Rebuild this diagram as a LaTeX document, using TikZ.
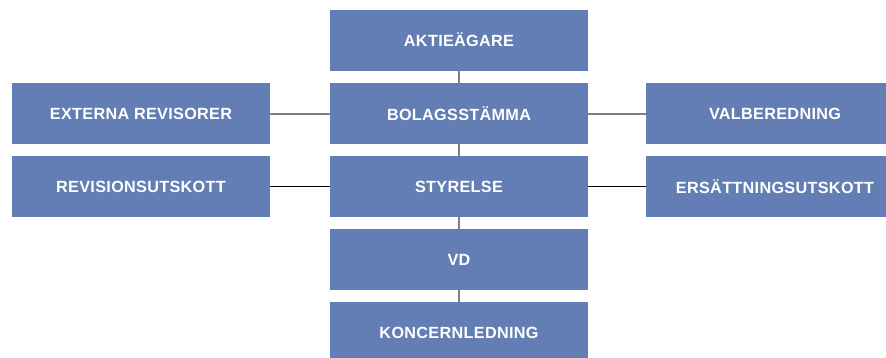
\documentclass[tikz,border=0pt]{standalone}
\usepackage{fontspec}
\setmainfont{Liberation Sans}[LetterSpace=2]
\definecolor{boxblue}{HTML}{637EB4}
\definecolor{linegray}{HTML}{7F7F7F}
\begin{document}
\begin{tikzpicture}[x=1pt,y=-1pt,
  orgbox/.style={fill=boxblue, draw=none, inner sep=0pt, text=white,
    font=\fontsize{16.2}{18}\selectfont\bfseries, anchor=center,
    minimum width=258pt, minimum height=61pt},
  graylink/.style={draw=linegray, line width=2pt},
  blacklink/.style={draw=black, line width=1.2pt}]
\useasboundingbox (0,0) rectangle (886,357);
\begin{scope}
\clip (0,0) rectangle (886,357);
\node[orgbox] (akt) at (459,40) {AKTIEÄGARE};
\node[orgbox] (bol) at (459,113.5) {BOLAGSSTÄMMA};
\node[orgbox] (sty) at (459,186.5) {STYRELSE};
\node[orgbox] (vd) at (459,259.5) {VD};
\node[orgbox] (kon) at (459,332.5) {KONCERNLEDNING};
\node[orgbox] (ext) at (141,113.5) {EXTERNA REVISORER};
\node[orgbox] (rev) at (141,186.5) {REVISIONSUTSKOTT};
\node[orgbox] (val) at (775,113.5) {VALBEREDNING};
\node[orgbox] (ers) at (775,186.5) {ERSÄTTNINGSUTSKOTT};
\end{scope}
\draw[graylink] (akt.south) -- (bol.north);
\draw[graylink] (bol.south) -- (sty.north);
\draw[graylink] (sty.south) -- (vd.north);
\draw[graylink] (vd.south) -- (kon.north);
\draw[graylink] (ext.east) -- (bol.west);
\draw[graylink] (bol.east) -- (val.west);
\draw[blacklink] (rev.east) -- (sty.west);
\draw[blacklink] (sty.east) -- (ers.west);
\end{tikzpicture}
\end{document}
